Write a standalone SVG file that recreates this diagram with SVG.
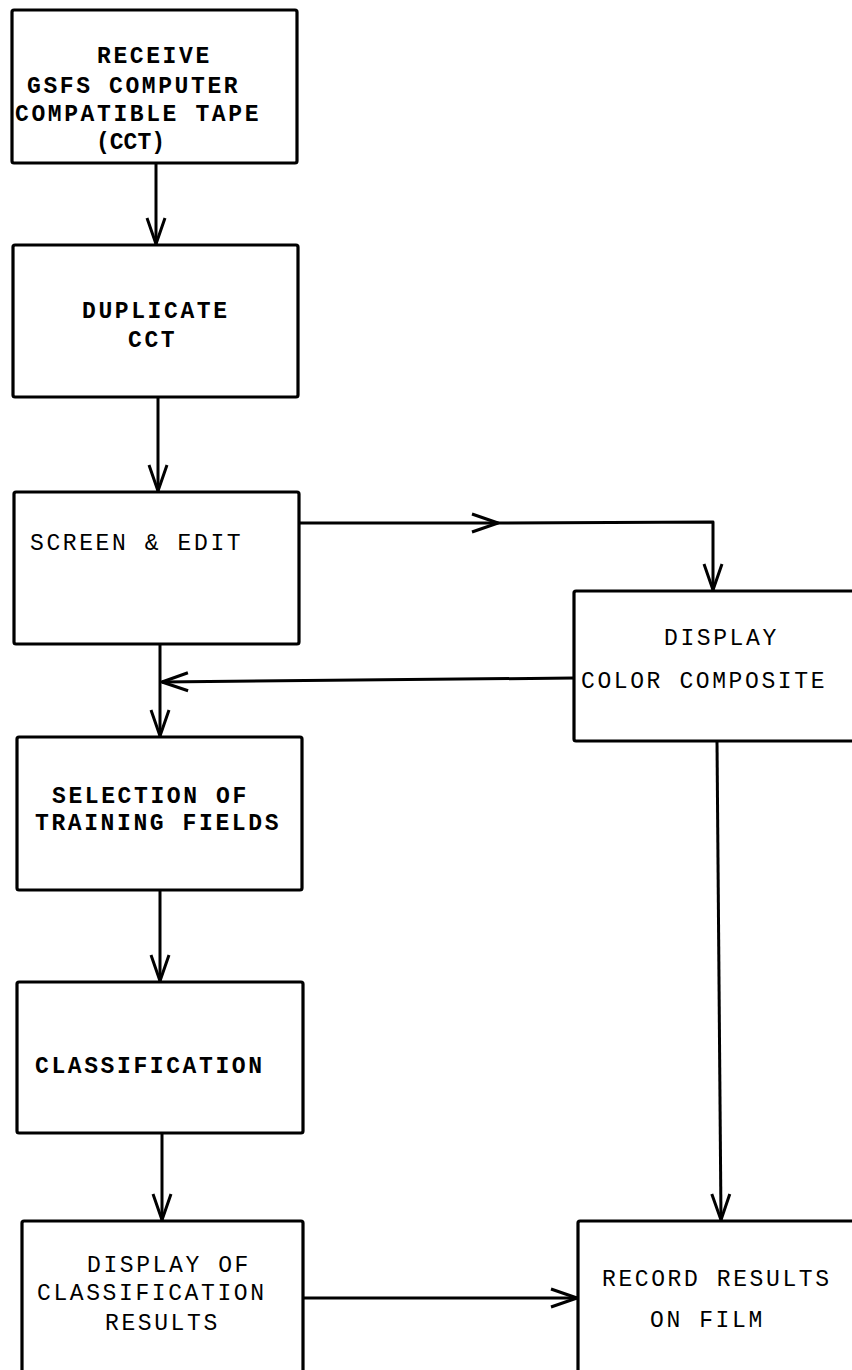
<svg xmlns="http://www.w3.org/2000/svg" width="852" height="1370" viewBox="0 0 852 1370">
<style>
.box{fill:#fff;stroke:#000;stroke-width:3.2;stroke-linejoin:round}
.ln{fill:none;stroke:#000;stroke-width:3;stroke-linejoin:round}
text{font-family:"Liberation Mono","DejaVu Sans Mono",monospace;font-size:23px;letter-spacing:2.6px;fill:#000}
.b{font-weight:bold}
</style>
<defs>
<marker id="ah" viewBox="-30 -12 34 24" refX="0" refY="0" markerWidth="34" markerHeight="24" markerUnits="userSpaceOnUse" orient="auto">
<path d="M-26,-9 L0,0 L-26,9" fill="none" stroke="#000" stroke-width="3" stroke-linejoin="round"/>
</marker>
</defs>
<rect width="852" height="1370" fill="#fff"/>
<g id="connectors">
<path class="ln" d="M156,163 L156,244" marker-end="url(#ah)"/>
<path class="ln" d="M158,397 L158,491" marker-end="url(#ah)"/>
<path class="ln" d="M299,523 L498,523" marker-end="url(#ah)"/>
<path class="ln" d="M498,523 L713,522 L713,590" marker-end="url(#ah)"/>
<path class="ln" d="M574,678 L162,682" marker-end="url(#ah)"/>
<path class="ln" d="M160,644 L160,736" marker-end="url(#ah)"/>
<path class="ln" d="M160,890 L160,981" marker-end="url(#ah)"/>
<path class="ln" d="M162,1133 L162,1220" marker-end="url(#ah)"/>
<path class="ln" d="M717,741 L721,1220" marker-end="url(#ah)"/>
<path class="ln" d="M303,1298 L577,1298" marker-end="url(#ah)"/>
</g>
<g id="n1">
<rect class="box" x="12" y="10" width="285" height="153" rx="2"/>
<text class="b" x="97" y="63">RECEIVE</text>
<text class="b" x="27" y="93">GSFS COMPUTER</text>
<text class="b" x="15" y="121">COMPATIBLE TAPE</text>
<text class="b" x="96" y="149" style="letter-spacing:0">(CCT)</text>
</g>
<g id="n2">
<rect class="box" x="13" y="245" width="285" height="152" rx="2"/>
<text class="b" x="82" y="318">DUPLICATE</text>
<text class="b" x="128" y="347">CCT</text>
</g>
<g id="n3">
<rect class="box" x="14" y="492" width="285" height="152" rx="2"/>
<text x="30" y="550">SCREEN &amp; EDIT</text>
</g>
<g id="n4">
<rect class="box" x="574" y="591" width="290" height="150" rx="2"/>
<text x="664" y="645">DISPLAY</text>
<text x="581" y="688">COLOR COMPOSITE</text>
</g>
<g id="n5">
<rect class="box" x="17" y="737" width="285" height="153" rx="2"/>
<text class="b" x="52" y="803">SELECTION OF</text>
<text class="b" x="35" y="830">TRAINING FIELDS</text>
</g>
<g id="n6">
<rect class="box" x="17" y="982" width="286" height="151" rx="2"/>
<text class="b" x="35" y="1073">CLASSIFICATION</text>
</g>
<g id="n7">
<rect class="box" x="22" y="1221" width="281" height="170" rx="2"/>
<text x="87" y="1272">DISPLAY OF</text>
<text x="37" y="1300">CLASSIFICATION</text>
<text x="105" y="1330">RESULTS</text>
</g>
<g id="n8">
<rect class="box" x="578" y="1221" width="290" height="170" rx="2"/>
<text x="602" y="1286">RECORD RESULTS</text>
<text x="650" y="1327">ON FILM</text>
</g>
</svg>
